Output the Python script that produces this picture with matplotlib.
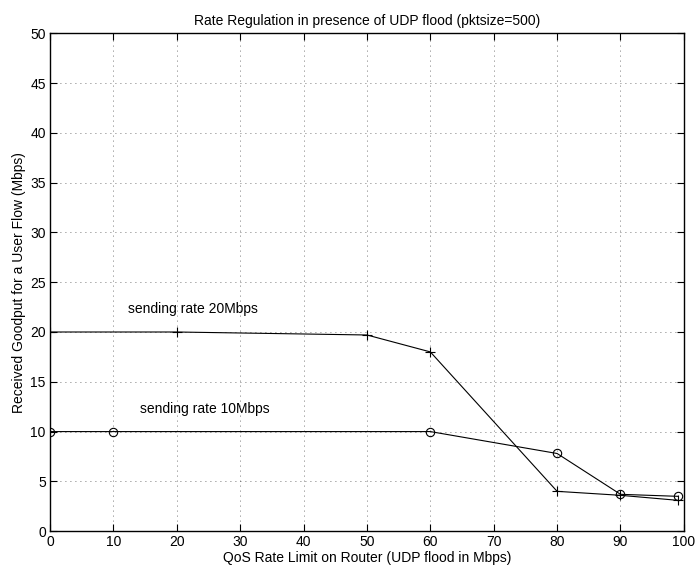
import matplotlib
matplotlib.use("Agg")
import matplotlib.pyplot as plt
import numpy as np

# values
qos_limit_20 = [0, 20, 50, 60, 80, 90, 99]
goodput_20 = [20.0, 20.0, 19.7, 18.0, 4.0, 3.6, 3.1]
qos_limit_10 = [0, 10, 60, 80, 90, 99]
goodput_10 = [10.0, 10.0, 10.0, 7.8, 3.7, 3.5]

x_ticks = np.arange(0, 101, 10)
y_ticks = np.arange(0, 51, 5)

plt.rcParams["font.family"] = ["Liberation Sans", "DejaVu Sans"]
plt.rcParams["font.size"] = 10

fig = plt.figure(figsize=(6.95, 5.73), dpi=100)
ax = fig.add_axes([0.072, 0.073, 0.912, 0.869])

ax.plot(qos_limit_20, goodput_20, color="black", linewidth=0.8, marker="+",
        markersize=7, markeredgewidth=0.8)
ax.plot(qos_limit_10, goodput_10, color="black", linewidth=0.8, marker="o",
        markersize=6, markerfacecolor="none", markeredgewidth=0.8)

ax.text(12.3, 21.9, "sending rate 20Mbps")
ax.text(14.2, 11.9, "sending rate 10Mbps")

ax.set_xlim(0, 100)
ax.set_ylim(0, 50)
ax.set_xticks(x_ticks)
ax.set_yticks(y_ticks)
ax.grid(True, linestyle=(0, (1, 5)), color="black", linewidth=0.6, alpha=0.7)
ax.tick_params(direction="in", top=True, right=True, length=5, width=0.8, pad=3)
for spine in ax.spines.values():
    spine.set_linewidth(1.0)

ax.set_title("Rate Regulation in presence of UDP flood (pktsize=500)", fontsize=10, pad=6)
ax.set_xlabel("QoS Rate Limit on Router (UDP flood in Mbps)", labelpad=1)
ax.set_ylabel("Received Goodput for a User Flow (Mbps)", labelpad=3)

fig.savefig("out.png", dpi=100)
